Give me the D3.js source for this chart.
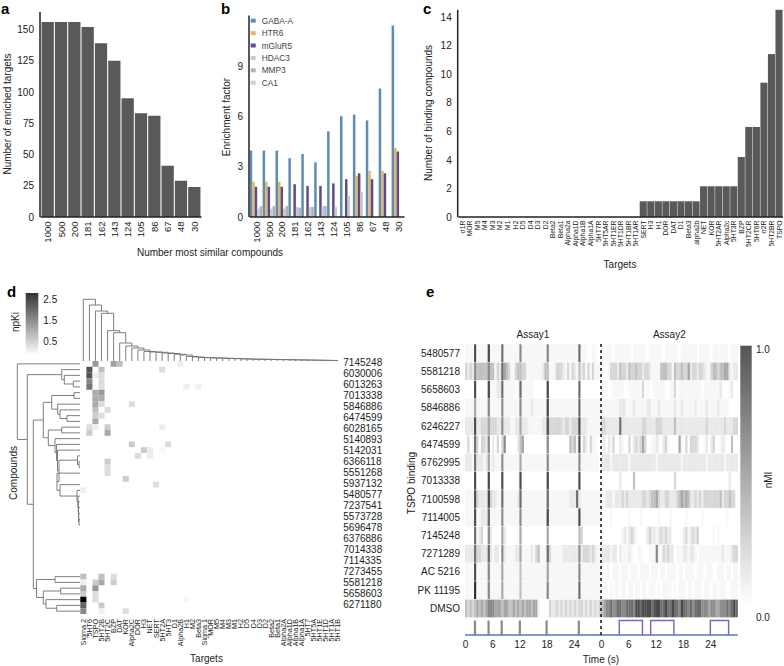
<!DOCTYPE html>
<html>
<head>
<meta charset="utf-8">
<script src="https://cdn.jsdelivr.net/npm/d3@7"></script>
<style>
	body { margin: 0; background: #fff; }
	text { font-family: "Liberation Sans", Arial, sans-serif; fill: #222; }
	.domain { display: none; }
</style>
</head>
<body>
<svg id="chart" width="784" height="666"></svg>
<script>

// panel a + b + shared categories
const similar = ["1000", "500", "200", "181", "162", "143", "124", "105", "86", "67", "48", "30"];
const enriched = [156, 156, 156, 152, 139, 125, 95, 83, 81, 41, 29, 24];

const seriesNames = ["GABA-A", "HTR6", "mGluR5", "HDAC3", "MMP3", "CA1"];
const seriesColors = ["#5c8cb8", "#e2b55e", "#5b4b97", "#c9c9c9", "#b2b2b2", "#cdcdcd"];
const gabaA = [3.95, 3.95, 3.95, 3.5, 3.75, 3.25, 5.1, 6.0, 6.1, 5.75, 7.65, 11.4];
const htr6 = [2.1, 2.1, 2.1, 0, 0, 0, 0, 0, 2.45, 2.75, 2.75, 4.1];
const mglur5 = [1.8, 1.8, 1.8, 1.95, 1.85, 1.85, 2.0, 2.25, 2.6, 2.25, 2.6, 3.9];
const hdac3 = [0.5, 0.5, 0.5, 0.6, 0.6, 0.65, 0.6, 1.25, 1.5, 0, 0, 0];
const mmp3 = [0.65, 0.65, 0.65, 0.55, 0.6, 0.65, 0, 0, 0, 0, 0, 0];
const ca1 = [0, 0, 0, 0, 0, 0, 0, 0, 0, 0, 0, 0];
const seriesValues = [gabaA, htr6, mglur5, hdac3, mmp3, ca1];

// panel c
const targetsC = ["σ1R", "MOR", "M5", "M4", "M3", "M2", "M1", "H2", "D5", "D4", "D3", "D2", "Beta2", "Beta1", "Alpha2a", "Alpha1D", "Alpha1B", "Alpha1A", "5HT7R", "5HT5AR", "5HT1ER", "5HT1DR", "5HT1BR", "5HT1AR", "SERT", "H3", "H1", "DOR", "DAT", "D1", "Beta3", "alpha2b", "NET", "KOR", "5HT2AR", "Alpha2c", "5HT3R", "BZP", "5HT2CR", "5HT6R", "σ2R", "5HT2BR", "TSPO"];
const bindingCounts = [0, 0, 0, 0, 0, 0, 0, 0, 0, 0, 0, 0, 0, 0, 0, 0, 0, 0, 0, 0, 0, 0, 0, 0, 1.1, 1.1, 1.1, 1.1, 1.1, 1.1, 1.1, 1.1, 2.15, 2.15, 2.15, 2.15, 2.15, 4.2, 6.3, 6.3, 9.4, 11.4, 14.5];

// panel d
const compoundsD = ["7145248", "6030006", "6013263", "7013338", "5846886", "6474599", "6028165", "5140893", "5142031", "6366118", "5551268", "5937132", "5480577", "7237541", "5573728", "5696478", "6376886", "7014338", "7114335", "7273455", "5581218", "5658603", "6271180"];
const targetsD = ["Sigma 2", "5HT6", "TSPO", "5HT2B", "5HT2C", "BZP", "DAT", "KOR", "Alpha2C", "DOR", "H3", "NET", "SERT", "5HT2A", "5HT3", "D1", "Alpha2B", "H1", "M2", "Beta3", "Sigma 1", "MOR", "M5", "M4", "M3", "M1", "H2", "D5", "D4", "D3", "D2", "Beta2", "Beta1", "Alpha2A", "Alpha1D", "Alpha1B", "Alpha1A", "5HT7", "5HT5A", "5HT1E", "5HT1D", "5HT1A", "5HT1B"];
const heatRows = [0, 0, 0, 0, 1, 1, 1, 2, 2, 2, 3, 3, 4, 4, 4, 4, 5, 5, 6, 6, 7, 7, 7, 8, 8, 9, 9, 10, 11, 11, 11, 11, 12, 12, 14, 14, 15, 15, 15, 16, 16, 17, 18, 19, 20, 21, 22, 37, 37, 37, 38, 38, 38, 38, 39, 39, 40, 40, 41, 41, 41, 42, 42, 43, 43, 43];
const heatCols = [2, 5, 6, 16, 1, 3, 13, 1, 2, 3, 1, 3, 1, 3, 17, 19, 2, 3, 2, 3, 2, 3, 8, 2, 4, 2, 3, 2, 1, 2, 4, 13, 1, 4, 8, 14, 10, 11, 13, 9, 11, 4, 4, 4, 7, 12, 0, 0, 3, 5, 0, 2, 3, 5, 0, 2, 0, 2, 0, 2, 17, 0, 3, 0, 3, 7];
const heatValues = [1.2, 1.1, 0.75, 0.2, 2.0, 0.75, 0.4, 2.0, 0.2, 0.4, 1.4, 0.4, 1.6, 0.4, 0.2, 0.15, 1.0, 1.2, 1.0, 1.0, 1.0, 0.4, 0.4, 0.75, 0.4, 0.6, 0.4, 1.0, 0.4, 0.2, 0.6, 0.2, 0.6, 1.0, 0.6, 0.4, 0.6, 0.2, 0.1, 0.4, 0.2, 0.6, 0.4, 0.4, 0.6, 0.4, 0.2, 0.75, 0.75, 0.4, 0.2, 0.6, 1.0, 0.6, 1.0, 1.2, 0.6, 0.4, 3.0, 0.4, 0.1, 1.8, 0.6, 1.4, 0.2, 0.4];

const topHeights = [61.7, 56, 50, 47.7, 30.3, 28.3, 18, 15, 13, 11, 9.5, 9, 8.7, 8, 7.5, 6.7, 6, 4.5, 4, 3.5, 3.3, 3.1, 2.9, 2.7, 2.5, 2.3, 2.1, 1.9, 1.8, 1.7, 1.6, 1.5, 1.4, 1.3, 1.2, 1.1, 1, 0.9, 0.8, 0.7, 0.6, 0.5];

// [height, child, child], a number is a heatmap row
const stair = [23, 19, [20, [3, 22, [2, 23, [1.8, 24, [1.5, 25, [1.3, 26, [1, 27, 28]]]]]], 21]];
const staircase = [25, 13, [23.5, 14, [22.5, 15, [21, [2.5, 16, [1, 17, 18]], stair]]]];
const leftTree = [62.7,
	0,
	[52.7,
		[18.3, 1, [15.7, 2, [6.7, 3, 4]]],
		[46.7,
			[36.7,
				[28.3, [6, 5, 6], [22.3, 7, [20, 8, [13, 9, 10]]]],
				[31.7, [18.3, 11, 12], staircase]],
			[43.5,
				[25, 37, 38],
				[36.7, [19.3, 39, 40], [34, 41, [23.3, 42, 43]]]]]]];

// panel e, one digit per half second, 0 = empty .. 9 = strongest
const compoundsE = ["5480577", "5581218", "5658603", "5846886", "6246227", "6474599", "6762995", "7013338", "7100598", "7114005", "7145248", "7271289", "AC 5216", "PK 11195", "DMSO"];
const assay1Rows = [
	"111181111181111171111111611111111111611111111111117111001100",
	"323264444464413275431134433111111124411133321313214231313111",
	"000080000081112271111101711111000000800000000000007000000000",
	"111151111161111161111111611112111111811111111111117111111111",
	"222282233353332262221122522211111122833333323323338222111111",
	"030173033260203036000002450000000000600000000043418032031100",
	"222172221251211161111111511111111111611111111111116111111110",
	"000080000080000080000000800000000000800000000000008000000000",
	"111183222283221171111112711111111111711111111122272111111111",
	"111181122271111161111111611111111111811111111111118111111111",
	"000071230062000052000001500000000000500000000000004300000000",
	"222273322272122062111122511112134111731111122222226233323211",
	"111181111161111151111111411111111111511111111111116111111111",
	"111191111161111151111111411111111111611111111111117111111111",
	"434345454566655545544545454554551000032232323232323323232323"
];
const assay2Rows = [
	"111110111111101111110111111011111101111111011111011111110111",
	"000133324332433433233211114443314334335233233211344344552122",
	"111001111100111111301001111100113011111111110111111120001200",
	"111111112221112111112211121111112112111112111121111211110000",
	"332222227222222222332222333222224222222222222232222222322233",
	"020213002100302323530011210231000051030333200120230012100400",
	"222212222222122222222222122222222221222222222212222222122222",
	"000000002000004000000000000000003000000000000000000000002000",
	"112221222323222222332344532233222345454223232333333342334330",
	"000010000000100001000000010000100000010000001000000000010000",
	"000000000121232100002322123232200000231232300000010100000000",
	"222212202111210011000111611323220111221221011111111112111233",
	"101101110111011101111011101101111011011110111011100111011011",
	"011010110110110110110111010111101011101101110111011011100111",
	"456676677667776887888878887787787768776767776665665566676787"
];
const stimTimes = [2.2, 5.2, 8.1, 12.1, 18, 25.1];
const pulseStarts = [4, 10.9, 24];
const pulseEnds = [9.1, 16, 28];
const timeTicks = [0, 6, 12, 18, 24];

const svg = d3.select("#chart");
const axisColor = "#222";

function label(x, y, txt, size, anchor, rotate) {
	const t = svg.append("text")
		.attr("font-size", size + "px")
		.attr("text-anchor", anchor || "middle")
		.text(txt);
	if (rotate) {
		t.attr("transform", "translate(" + x + "," + y + ") rotate(-90)");
	} else {
		t.attr("x", x).attr("y", y);
	}
	return t;
}

function panelLetter(x, y, txt) {
	label(x, y, txt, 15, "start").attr("font-weight", "bold").style("fill", "#000");
}

function leftAxis(yScale, x, ticks, size) {
	const g = svg.append("g")
		.attr("transform", "translate(" + x + ",0)")
		.call(d3.axisLeft(yScale).tickValues(ticks).tickSize(0).tickPadding(6));
	g.selectAll("text").attr("font-size", size + "px");
	svg.append("line")
		.attr("x1", x).attr("x2", x)
		.attr("y1", yScale.range()[1]).attr("y2", yScale.range()[0])
		.attr("stroke", axisColor).attr("stroke-width", 1.5);
}

function bottomAxis(xScale, y, size, padding) {
	const g = svg.append("g")
		.attr("transform", "translate(0," + y + ")")
		.call(d3.axisBottom(xScale).tickSize(0).tickPadding(0));
	g.selectAll("text")
		.attr("font-size", size + "px")
		.attr("text-anchor", "end")
		.attr("dy", null)
		.attr("y", 0)
		.attr("dominant-baseline", "central")
		.attr("transform", "translate(0," + padding + ") rotate(-90)");
	svg.append("line")
		.attr("x1", xScale.range()[0]).attr("x2", xScale.range()[1])
		.attr("y1", y).attr("y2", y)
		.attr("stroke", axisColor).attr("stroke-width", 1.5);
}

// a
const xA = d3.scaleBand().domain(similar).range([40.5, 201.5]).padding(0.08);
const yA = d3.scaleLinear().domain([0, 164]).range([217, 12]);
svg.append("g").selectAll("rect")
	.data(enriched)
	.enter().append("rect")
	.attr("x", (d, i) => xA(similar[i]))
	.attr("y", d => yA(d))
	.attr("width", xA.bandwidth())
	.attr("height", d => yA(0) - yA(d))
	.attr("fill", "#595959");
leftAxis(yA, 40, [0, 25, 50, 75, 100, 125, 150], 10);
bottomAxis(xA, 217, 9.5, 4.5);
label(7, 114, "Number of enriched targets", 10, "middle", true).attr("dominant-baseline", "central");
label(210, 256, "Number most similar compounds", 10);
panelLetter(1, 14, "a");

// b
const xB = d3.scaleBand().domain(similar).range([249.7, 404.5]);
const xSeries = d3.scaleBand().domain(seriesNames).range([0, 15]);
const yB = d3.scaleLinear().domain([0, 12]).range([217, 15.4]);
seriesNames.forEach((name, s) => {
	svg.append("g").selectAll("rect")
		.data(seriesValues[s])
		.enter().append("rect")
		.attr("x", (d, i) => xB(similar[i]) + xSeries(name))
		.attr("y", d => yB(d))
		.attr("width", xSeries.bandwidth())
		.attr("height", d => yB(0) - yB(d))
		.attr("fill", seriesColors[s]);
});
leftAxis(yB, 249, [0, 3, 6, 9], 10);
bottomAxis(xB, 217, 9.5, 4.5);
label(226, 117, "Enrichment factor", 10, "middle", true).attr("dominant-baseline", "central");
panelLetter(221, 14, "b");

const legendY = d3.scalePoint().domain(seriesNames).range([20.7, 82.7]);
seriesNames.forEach((name, s) => {
	svg.append("rect")
		.attr("x", 250.7).attr("y", legendY(name) - 2)
		.attr("width", 5).attr("height", 4)
		.attr("fill", seriesColors[s]);
	label(261.7, legendY(name) + 3, name, 8.3, "start").style("fill", "#444");
});

// c
const xC = d3.scaleBand().domain(targetsC).range([458.3, 783]).padding(0.06);
const yC = d3.scaleLinear().domain([0, 14.5]).range([217, 9.8]);
svg.append("g").selectAll("rect")
	.data(bindingCounts)
	.enter().append("rect")
	.attr("x", (d, i) => xC(targetsC[i]))
	.attr("y", d => yC(d))
	.attr("width", xC.bandwidth())
	.attr("height", d => yC(0) - yC(d))
	.attr("fill", "#595959");
leftAxis(yC, 457.7, [0, 2, 4, 6, 8, 10, 12, 14], 10);
bottomAxis(xC, 217, 6.8, 3.5);
label(428, 113, "Number of binding compounds", 10, "middle", true).attr("dominant-baseline", "central");
label(620, 268, "Targets", 10);
panelLetter(423, 14, "c");

// d
const xD = d3.scaleBand().domain(targetsD).range([80.3, 340.9]);
const rowIds = d3.range(44);
const yD = d3.scaleBand().domain(rowIds).range([361, 614]);
const npki = d3.scaleLinear().domain([0, 3]).range(["#fff", "#000"]);

svg.append("g").selectAll("rect")
	.data(heatValues)
	.enter().append("rect")
	.attr("x", (d, i) => xD(targetsD[heatCols[i]]))
	.attr("y", (d, i) => yD(heatRows[i]))
	.attr("width", xD.bandwidth())
	.attr("height", yD.bandwidth())
	.attr("fill", d => npki(d));

// nested tree -> bracket paths, returns where the node sits
function drawTree(node, leafPos, hPos, horizontal) {
	if (typeof node === "number") return { pos: leafPos(node), h: 0 };
	const a = drawTree(node[1], leafPos, hPos, horizontal);
	const b = drawTree(node[2], leafPos, hPos, horizontal);
	const h = node[0];
	const pts = [[a.pos, hPos(a.h)], [a.pos, hPos(h)], [b.pos, hPos(h)], [b.pos, hPos(b.h)]];
	svg.append("path")
		.attr("d", d3.line()(horizontal ? pts.map(p => [p[1], p[0]]) : pts))
		.attr("fill", "none")
		.attr("stroke", "#707070")
		.attr("stroke-width", 0.9);
	return { pos: (a.pos + b.pos) / 2, h: h };
}

const hLeft = d3.scaleLinear().domain([0, 62.7]).range([80, 17.3]);
drawTree(leftTree, r => yD(r) + yD.bandwidth() / 2, hLeft, true);

// the column tree is a staircase, leaf k joins what comes after it
const topTree = topHeights.reduceRight(
	(tree, h, k) => [h, k, tree],
	topHeights.length
);
const hTop = d3.scaleLinear().domain([0, 62]).range([361, 299]);
drawTree(topTree, c => xD(targetsD[c]) + xD.bandwidth() / 2, hTop, false);

const yCompounds = d3.scalePoint().domain(compoundsD).range([362.7, 604.3]);
compoundsD.forEach(c => {
	label(343.3, yCompounds(c), c, 10, "start").attr("dominant-baseline", "central");
});

const gD = svg.append("g")
	.attr("transform", "translate(0,619)")
	.call(d3.axisBottom(xD).tickSize(0).tickPadding(0));
gD.selectAll("text")
	.attr("font-size", "7.2px")
	.attr("text-anchor", "end")
	.attr("dy", null)
	.attr("y", 0)
	.attr("dominant-baseline", "central")
	.attr("transform", "rotate(-90)");

label(206.5, 662, "Targets", 10);
label(13, 473, "Compounds", 10, "middle", true).attr("dominant-baseline", "central");
panelLetter(7, 297, "d");

// colour bars
const defs = svg.append("defs");
function colorBar(id, x, y, w, h, topColor) {
	const grad = defs.append("linearGradient")
		.attr("id", id)
		.attr("x1", 0).attr("x2", 0).attr("y1", 0).attr("y2", 1);
	grad.append("stop").attr("offset", "0%").attr("stop-color", topColor);
	grad.append("stop").attr("offset", "100%").attr("stop-color", "#fff");
	svg.append("rect")
		.attr("x", x).attr("y", y)
		.attr("width", w).attr("height", h)
		.attr("fill", "url(#" + id + ")");
}
colorBar("npkiBar", 25.7, 293, 12.6, 62, "#333");
const npkiTicks = ["2.5", "1.5", "0.5"];
const yNpki = d3.scalePoint().domain(npkiTicks).range([299, 341]);
npkiTicks.forEach(t => {
	label(43.3, yNpki(t), t, 10, "start").attr("dominant-baseline", "central");
});
label(15.5, 322, "npKi", 10, "middle", true).attr("dominant-baseline", "central");

// e
const binSeconds = 0.5;
const t1 = d3.scaleLinear().domain([0, 30]).range([465, 601]);
const t2 = d3.scaleLinear().domain([0, 30]).range([601, 737.7]);
const yE = d3.scaleBand().domain(compoundsE).range([344.3, 617.3]).paddingInner(0.03);
const nmi = d3.scalePow().exponent(1.5).domain([0, 9]).range(["#fff", "#2a2a2a"]);

function drawAssay(rows, time) {
	rows.forEach((row, r) => {
		svg.append("g").selectAll("rect")
			.data(row.split("").map(Number))
			.enter().append("rect")
			.attr("x", (d, i) => time(i * binSeconds))
			.attr("y", yE(compoundsE[r]))
			.attr("width", time(binSeconds) - time(0) + 0.2)
			.attr("height", yE.bandwidth())
			.attr("fill", d => nmi(d));
	});
}
drawAssay(assay1Rows, t1);
drawAssay(assay2Rows, t2);

compoundsE.forEach(c => {
	label(460, yE(c) + yE.bandwidth() / 2, c, 10, "end").attr("dominant-baseline", "central");
});

// stimulus row under the heatmap
const stimBottom = 635;
const stimTop = 620.5;
svg.append("g").selectAll("rect")
	.data(stimTimes)
	.enter().append("rect")
	.attr("x", d => t1(d) - 1.1)
	.attr("y", stimTop)
	.attr("width", 2.2)
	.attr("height", stimBottom - stimTop)
	.attr("fill", "#8a8a8a");
pulseStarts.forEach((s, i) => {
	svg.append("path")
		.attr("d", d3.line()([[t2(s), stimBottom], [t2(s), stimTop], [t2(pulseEnds[i]), stimTop], [t2(pulseEnds[i]), stimBottom]]))
		.attr("fill", "none")
		.attr("stroke", "#7f64ad")
		.attr("stroke-width", 1.4);
});
svg.append("line")
	.attr("x1", t1(0)).attr("x2", t2(30))
	.attr("y1", stimBottom).attr("y2", stimBottom)
	.attr("stroke", "#5a78aa").attr("stroke-width", 1.3);
svg.append("line")
	.attr("x1", t2(0)).attr("x2", t2(0))
	.attr("y1", 344).attr("y2", stimBottom)
	.attr("stroke", "#111")
	.attr("stroke-width", 1.5)
	.attr("stroke-dasharray", "3,3");

[t1, t2].forEach(time => {
	const g = svg.append("g")
		.attr("transform", "translate(0," + stimBottom + ")")
		.call(d3.axisBottom(time).tickValues(timeTicks).tickFormat(d3.format("d")).tickSize(0).tickPadding(6));
	g.selectAll("text").attr("font-size", "10px");
});

label(t1(15), 337.5, "Assay1", 10);
label(t2(15), 337.5, "Assay2", 10);
label(601, 663, "Time (s)", 10);
label(411, 483, "TSPO binding", 10, "middle", true).attr("dominant-baseline", "central");
panelLetter(426, 297, "e");

colorBar("nmiBar", 740.3, 345.7, 11.4, 259, "#555");
label(756, 349, "1.0", 10, "start").attr("dominant-baseline", "central");
label(756, 617, "0.0", 10, "start").attr("dominant-baseline", "central");
label(768, 480, "nMI", 10, "middle", true).attr("dominant-baseline", "central");

</script>
</body>
</html>
